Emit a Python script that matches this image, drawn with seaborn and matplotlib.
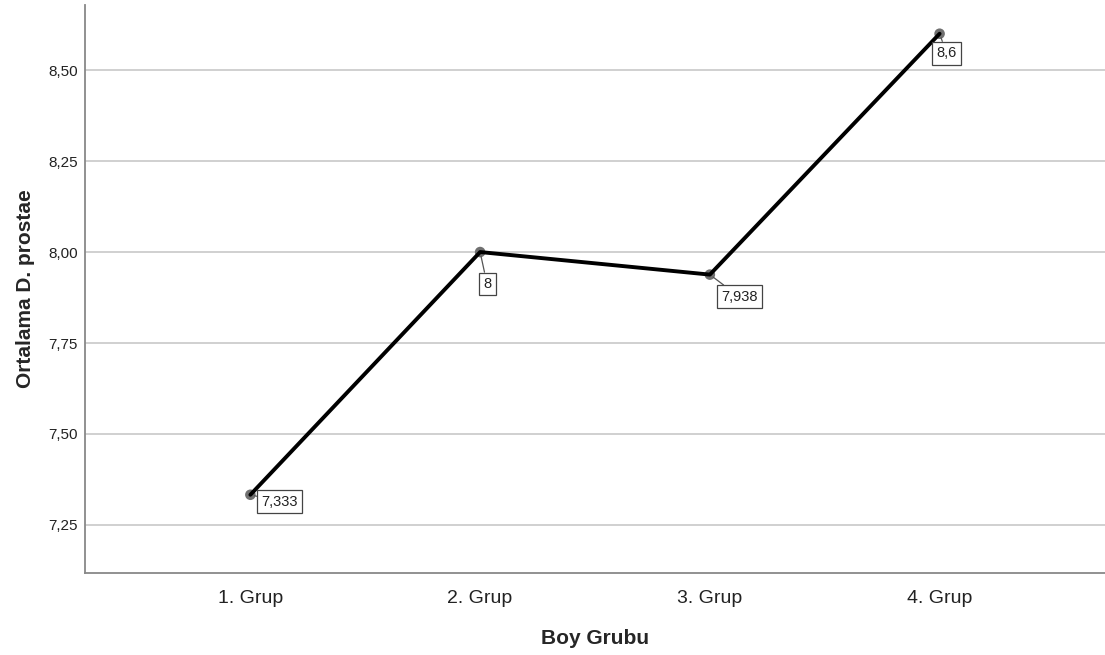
import matplotlib
matplotlib.use("Agg")
import matplotlib.pyplot as plt
import seaborn as sns
import pandas as pd

groups = ["1. Grup", "2. Grup", "3. Grup", "4. Grup"]
means = [7.333, 8.0, 7.938, 8.6]
value_labels = ["7,333", "8", "7,938", "8,6"]
y_ticks = [7.25, 7.50, 7.75, 8.00, 8.25, 8.50]
y_tick_labels = ["7,25", "7,50", "7,75", "8,00", "8,25", "8,50"]

df = pd.DataFrame({"Boy Grubu": groups, "Ortalama": means})

sns.set_theme(style="white")
plt.rcParams["font.family"] = ["Liberation Sans", "DejaVu Sans"]

fig = plt.figure(figsize=(11.05, 6.55), dpi=100)
ax = fig.add_axes([0.0769, 0.1252, 0.9231, 0.8672])

for y in y_ticks:
    ax.axhline(y, color="#c8c8c8", lw=1.2, zorder=0)

sns.lineplot(data=df, x="Boy Grubu", y="Ortalama", color="black", lw=2.8,
             ax=ax, zorder=3, sort=False)
sns.scatterplot(data=df, x="Boy Grubu", y="Ortalama", color="#707070", s=58,
                edgecolor="none", ax=ax, zorder=2)

# value callouts with leader lines
offsets = [(8, -5), (5, -23), (8, -16), (5, -14)]
for i, (val, lab, off) in enumerate(zip(means, value_labels, offsets)):
    ax.annotate(lab, xy=(i, val), xytext=off, textcoords="offset points",
                ha="left" if off[0] > 6 else "center", va="center", fontsize=10.5,
                color="#222222",
                bbox=dict(boxstyle="square,pad=0.3", fc="white", ec="#444444", lw=0.9),
                arrowprops=dict(arrowstyle="-", color="#555555", lw=0.9,
                                shrinkA=0, shrinkB=3),
                zorder=4)

ax.set_xlim(-0.72, 3.72)
ax.set_ylim(7.118, 8.679)
ax.set_yticks(y_ticks)
ax.set_yticklabels(y_tick_labels, fontsize=11, color="#222222")
ax.set_xticks(range(len(groups)))
ax.set_xticklabels(groups, fontsize=14, color="#222222")
ax.tick_params(axis="y", length=0, pad=5)
ax.tick_params(axis="x", length=0, pad=12)

ax.set_xlabel("Boy Grubu", fontsize=15, fontweight="bold", labelpad=16)
ax.set_ylabel("Ortalama D. prostae", fontsize=15, fontweight="bold", labelpad=10)

for side in ["top", "right"]:
    ax.spines[side].set_visible(False)
for side in ["left", "bottom"]:
    ax.spines[side].set_color("#888888")
    ax.spines[side].set_linewidth(1.3)

fig.savefig("out.png", dpi=100, facecolor="white")
